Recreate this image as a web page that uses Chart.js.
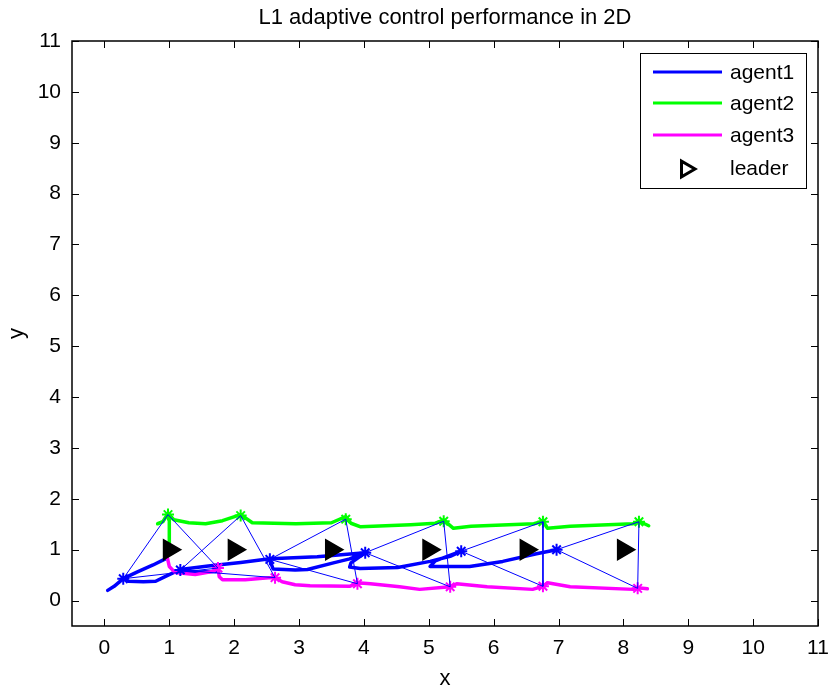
<!DOCTYPE html>
<html>
<head>
<meta charset="utf-8">
<script src="https://cdn.jsdelivr.net/npm/chart.js@4.4.0/dist/chart.umd.min.js"></script>
<style>
  html, body { margin: 0; padding: 0; background: #fff; }
  #wrap { width: 831px; height: 692px; }
</style>
</head>
<body>
<div id="wrap"><canvas id="ctx-traj" width="831" height="692"></canvas></div>
<script>
// axis ticks
const xTicks = [0, 1, 2, 3, 4, 5, 6, 7, 8, 9, 10, 11];
const yTicks = [0, 1, 2, 3, 4, 5, 6, 7, 8, 9, 10, 11];

// leader positions
const leaderX = [1, 2, 3.5, 5, 6.5, 8];
const leaderY = [1, 1, 1, 1, 1, 1];

// agent positions at the snapshot instants (the * markers)
const agent1StarX = [0.29, 1.17, 2.55, 4.02, 5.5, 6.97];
const agent1StarY = [0.43, 0.6, 0.81, 0.94, 0.97, 1.0];
const agent2StarX = [0.98, 2.1, 3.72, 5.23, 6.76, 8.24];
const agent2StarY = [1.69, 1.67, 1.6, 1.56, 1.55, 1.55];
const agent3StarX = [1.75, 2.63, 3.9, 5.33, 6.76, 8.22];
const agent3StarY = [0.64, 0.45, 0.33, 0.27, 0.28, 0.24];

// trajectories (null = pen up)
const agent1X = [0.05, 0.15, 0.29, 0.5, 0.75, 0.97, null,
  0.29, 0.37, 0.6, 0.79, 0.95, 1.17, 1.6, 2.1, 2.55, 3.28, 4.02, null,
  1.17, 1.45, 1.72, null,
  2.55, 2.6, 2.94, 3.13, 3.53, 3.78, 4.02, null,
  4.02, 3.8, 3.78, 3.94, 4.52, 5.02, 5.33, 5.5, null,
  5.5, 5.1, 5.02, 5.63, 6.14, 6.66, 6.97];
const agent1Y = [0.2, 0.28, 0.43, 0.56, 0.7, 0.84, null,
  0.43, 0.38, 0.37, 0.38, 0.48, 0.61, 0.68, 0.75, 0.82, 0.86, 0.94, null,
  0.58, 0.56, 0.57, null,
  0.8, 0.62, 0.6, 0.61, 0.74, 0.82, 0.94, null,
  0.94, 0.74, 0.66, 0.63, 0.65, 0.77, 0.87, 0.97, null,
  0.97, 0.78, 0.67, 0.67, 0.77, 0.92, 1.0];

const agent2X = [1, 1, null,
  0.82, 0.9, 0.98, 1.07, 1.3, 1.56, 1.82, 2.1, 2.28, 2.95, 3.5, 3.72, 3.8,
  3.95, 4.72, 5.1, 5.23, 5.38, 5.65, 6.62, 6.76, 6.83, 7.18, 8.15, 8.24, 8.39];
const agent2Y = [1.1, 1.69, null,
  1.51, 1.55, 1.71, 1.59, 1.53, 1.51, 1.57, 1.69, 1.53, 1.51, 1.53, 1.65, 1.52,
  1.45, 1.49, 1.52, 1.58, 1.42, 1.46, 1.51, 1.56, 1.42, 1.46, 1.51, 1.56, 1.47];

const agent3X = [0.97, 1.0, 1.09, 1.4, 1.66, 1.75, 1.77, 1.82, 2.17, 2.53, 2.63,
  2.74, 2.94, 3.17, 3.78, 3.9, 4.1, 4.55, 4.86, 5.33, 5.43, 5.9, 6.6, 6.76,
  6.83, 7.18, 8.15, 8.22, 8.37];
const agent3Y = [0.84, 0.67, 0.55, 0.51, 0.57, 0.64, 0.47, 0.41, 0.41, 0.45, 0.45,
  0.37, 0.31, 0.29, 0.28, 0.35, 0.33, 0.27, 0.22, 0.27, 0.33, 0.27, 0.22, 0.28,
  0.35, 0.27, 0.22, 0.25, 0.23];

const toPts = (xs, ys) => xs.map((x, i) => x === null ? { x: NaN, y: NaN } : { x: x, y: ys[i] });

// thin formation triangles: agent1 -> agent2 -> agent3 -> agent1 at every snapshot
const formation = [];
agent1StarX.forEach((_, k) => {
  formation.push({ x: agent1StarX[k], y: agent1StarY[k] });
  formation.push({ x: agent2StarX[k], y: agent2StarY[k] });
  formation.push({ x: agent3StarX[k], y: agent3StarY[k] });
  formation.push({ x: agent1StarX[k], y: agent1StarY[k] });
  formation.push({ x: NaN, y: NaN });
});

const FONT = '"Liberation Sans", Arial, sans-serif';

const frame = {
  id: 'frame',
  afterDraw(chart) {
    const ctx = chart.ctx;
    const { left, right, top, bottom } = chart.chartArea;
    const xs = chart.scales.x, ys = chart.scales.y;
    const tl = 7;
    ctx.save();
    ctx.strokeStyle = '#000';
    ctx.lineWidth = 1;
    ctx.beginPath();
    xTicks.forEach(v => {
      const p = Math.round(xs.getPixelForValue(v)) + 0.5;
      ctx.moveTo(p, bottom); ctx.lineTo(p, bottom - tl);
      ctx.moveTo(p, top); ctx.lineTo(p, top + tl);
    });
    yTicks.forEach(v => {
      const p = Math.round(ys.getPixelForValue(v)) + 0.5;
      ctx.moveTo(left, p); ctx.lineTo(left + tl, p);
      ctx.moveTo(right, p); ctx.lineTo(right - tl, p);
    });
    ctx.stroke();
    ctx.lineWidth = 1.5;
    ctx.strokeRect(left, top, right - left, bottom - top);

    // titles
    ctx.fillStyle = '#000';
    ctx.font = '22px ' + FONT;
    ctx.textAlign = 'center';
    ctx.textBaseline = 'alphabetic';
    ctx.fillText('L1 adaptive control performance in 2D', (left + right) / 2, 24);
    ctx.fillText('x', (left + right) / 2, 685);
    ctx.save();
    ctx.translate(17, (top + bottom) / 2);
    ctx.rotate(-Math.PI / 2);
    ctx.textBaseline = 'middle';
    ctx.fillText('y', 0, 0);
    ctx.restore();

    // legend
    const bx = 640, by = 53, bw = 166, bh = 135;
    ctx.fillStyle = '#fff';
    ctx.fillRect(bx, by, bw, bh);
    ctx.lineWidth = 1;
    ctx.strokeStyle = '#000';
    ctx.strokeRect(bx + 0.5, by + 0.5, bw, bh);
    const items = [
      { label: 'agent1', color: '#0000ff', y: 72 },
      { label: 'agent2', color: '#00ff00', y: 103 },
      { label: 'agent3', color: '#ff00ff', y: 135 }
    ];
    ctx.lineWidth = 3;
    items.forEach(it => {
      ctx.strokeStyle = it.color;
      ctx.beginPath();
      ctx.moveTo(653, it.y); ctx.lineTo(722, it.y);
      ctx.stroke();
    });
    ctx.fillStyle = '#fff';
    ctx.strokeStyle = '#000';
    Chart.helpers.drawPoint(ctx, { pointStyle: 'triangle', radius: 9, rotation: 90, borderWidth: 3 }, 686, 169);
    ctx.fillStyle = '#000';
    ctx.font = '21px ' + FONT;
    ctx.textAlign = 'left';
    ctx.textBaseline = 'middle';
    items.forEach(it => ctx.fillText(it.label, 730, it.y + 1));
    ctx.fillText('leader', 730, 169);
    ctx.restore();
  }
};

const starSet = (xs, ys, color) => ({
  data: toPts(xs, ys),
  showLine: false,
  pointStyle: 'star',
  pointRadius: 6,
  pointBorderWidth: 2,
  pointBorderColor: color,
  pointBackgroundColor: color,
  order: 2
});

const lineSet = (xs, ys, color) => ({
  data: toPts(xs, ys),
  showLine: true,
  borderColor: color,
  borderWidth: 3.5,
  borderJoinStyle: 'round',
  borderCapStyle: 'round',
  pointRadius: 0,
  spanGaps: false,
  order: 3
});

new Chart(document.getElementById('ctx-traj'), {
  type: 'scatter',
  data: {
    datasets: [
      {
        data: toPts(leaderX, leaderY),
        showLine: false,
        pointStyle: 'triangle',
        rotation: 90,
        pointRadius: 11.5,
        pointBorderWidth: 1.5,
        pointBorderColor: '#000',
        pointBackgroundColor: '#000',
        order: 0
      },
      {
        data: formation,
        showLine: true,
        borderColor: '#0000ff',
        borderWidth: 1,
        pointRadius: 0,
        spanGaps: false,
        order: 1
      },
      starSet(agent1StarX, agent1StarY, '#0000ff'),
      starSet(agent2StarX, agent2StarY, '#00ff00'),
      starSet(agent3StarX, agent3StarY, '#ff00ff'),
      lineSet(agent3X, agent3Y, '#ff00ff'),
      lineSet(agent2X, agent2Y, '#00ff00'),
      lineSet(agent1X, agent1Y, '#0000ff')
    ]
  },
  options: {
    responsive: false,
    animation: false,
    devicePixelRatio: 1,
    layout: { padding: { top: 41, right: 6, left: 0, bottom: 0 } },
    plugins: {
      legend: { display: false },
      tooltip: { enabled: false },
      title: { display: false }
    },
    scales: {
      x: {
        type: 'linear',
        min: -0.5,
        max: 11,
        afterFit: (s) => { s.height = 66; s.paddingRight = 0; },
        afterBuildTicks: (s) => { s.ticks = xTicks.map(v => ({ value: v })); },
        grid: { display: false, drawTicks: false },
        border: { display: false },
        ticks: { color: '#000', padding: 10, maxRotation: 0, font: { family: FONT, size: 21 } }
      },
      y: {
        type: 'linear',
        min: -0.5,
        max: 11,
        afterFit: (s) => { s.width = 72; },
        afterBuildTicks: (s) => { s.ticks = yTicks.map(v => ({ value: v })); },
        grid: { display: false, drawTicks: false },
        border: { display: false },
        ticks: { color: '#000', padding: 11, font: { family: FONT, size: 21 } }
      }
    }
  },
  plugins: [frame]
});
</script>
</body>
</html>
